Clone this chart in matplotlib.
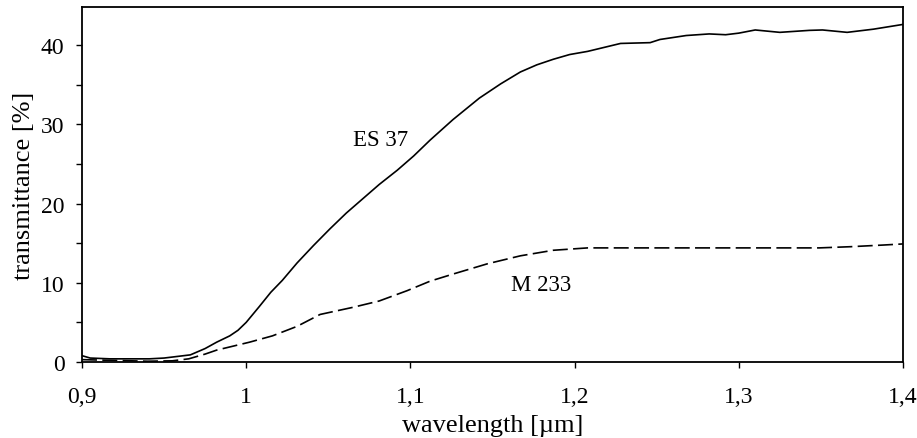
import matplotlib
matplotlib.use("Agg")
import matplotlib.pyplot as plt
from matplotlib.ticker import FixedLocator, FixedFormatter

plt.rcParams['font.family'] = ['Liberation Serif', 'DejaVu Serif']

# Transmittance spectra of the two glasses
es37_wl = [0.900, 0.905, 0.917, 0.930, 0.941, 0.950, 0.960, 0.966, 0.975, 0.982,
           0.990, 0.995, 1.000, 1.004, 1.008, 1.015, 1.022, 1.031, 1.041, 1.051,
           1.061, 1.071, 1.081, 1.092, 1.102, 1.112, 1.126, 1.142, 1.155, 1.167,
           1.177, 1.187, 1.197, 1.208, 1.218, 1.228, 1.246, 1.252, 1.268, 1.282,
           1.292, 1.300, 1.310, 1.325, 1.343, 1.351, 1.366, 1.382, 1.400]
es37_t = [0.8, 0.5, 0.4, 0.4, 0.4, 0.5, 0.75, 0.9, 1.7, 2.5,
          3.3, 4.0, 5.0, 6.0, 7.0, 8.8, 10.3, 12.5, 14.7, 16.8,
          18.8, 20.6, 22.4, 24.2, 26.0, 28.0, 30.6, 33.3, 35.1, 36.6,
          37.5, 38.2, 38.8, 39.2, 39.7, 40.2, 40.3, 40.7, 41.2, 41.4,
          41.3, 41.5, 41.9, 41.6, 41.85, 41.9, 41.6, 42.0, 42.6]

m233_wl = [0.900, 0.920, 0.940, 0.955, 0.965, 0.975, 0.982, 0.990, 1.002, 1.016,
           1.031, 1.045, 1.065, 1.081, 1.098, 1.112, 1.126, 1.147, 1.167, 1.187,
           1.208, 1.258, 1.349, 1.368, 1.388, 1.400]
m233_t = [0.3, 0.2, 0.1, 0.15, 0.4, 1.0, 1.5, 1.9, 2.5, 3.3,
          4.5, 6.0, 6.9, 7.7, 9.0, 10.2, 11.1, 12.4, 13.4, 14.1,
          14.4, 14.4, 14.4, 14.55, 14.76, 14.9]

x_ticks = [0.9, 1.0, 1.1, 1.2, 1.3, 1.4]
x_tick_labels = ["0,9", "1", "1,1", "1,2", "1,3", "1,4"]
y_ticks = [0, 10, 20, 30, 40]
y_minor_ticks = [5, 15, 25, 35]

fig = plt.figure(figsize=(9.17, 4.39), dpi=100)
ax = fig.add_axes([0.0894, 0.1731, 0.8953, 0.8087])

ax.plot(es37_wl, es37_t, color='black', lw=1.2)
ax.plot(m233_wl, m233_t, color='black', lw=1.2, linestyle=(0, (9, 3.2)))

ax.text(1.0818, 28.1, "ES 37", ha='center', va='center', fontsize=16.5)
ax.text(1.1795, 9.8, "M 233", ha='center', va='center', fontsize=16.5)

ax.set_xlim(0.9, 1.4)
ax.set_ylim(0, 44.8)

ax.xaxis.set_major_locator(FixedLocator(x_ticks))
ax.xaxis.set_major_formatter(FixedFormatter(x_tick_labels))
ax.yaxis.set_major_locator(FixedLocator(y_ticks))
ax.yaxis.set_minor_locator(FixedLocator(y_minor_ticks))

ax.tick_params(axis='both', which='both', direction='out', length=4.5, width=1.0,
               labelsize=17, color='black')
ax.tick_params(axis='x', pad=13)
ax.tick_params(axis='y', pad=8)

for sp in ax.spines.values():
    sp.set_linewidth(1.3)

ax.set_xlabel("wavelength [µm]", fontsize=19, labelpad=5)
ax.set_ylabel("transmittance [%]", fontsize=19, labelpad=4)

fig.savefig("out.png", dpi=100)
